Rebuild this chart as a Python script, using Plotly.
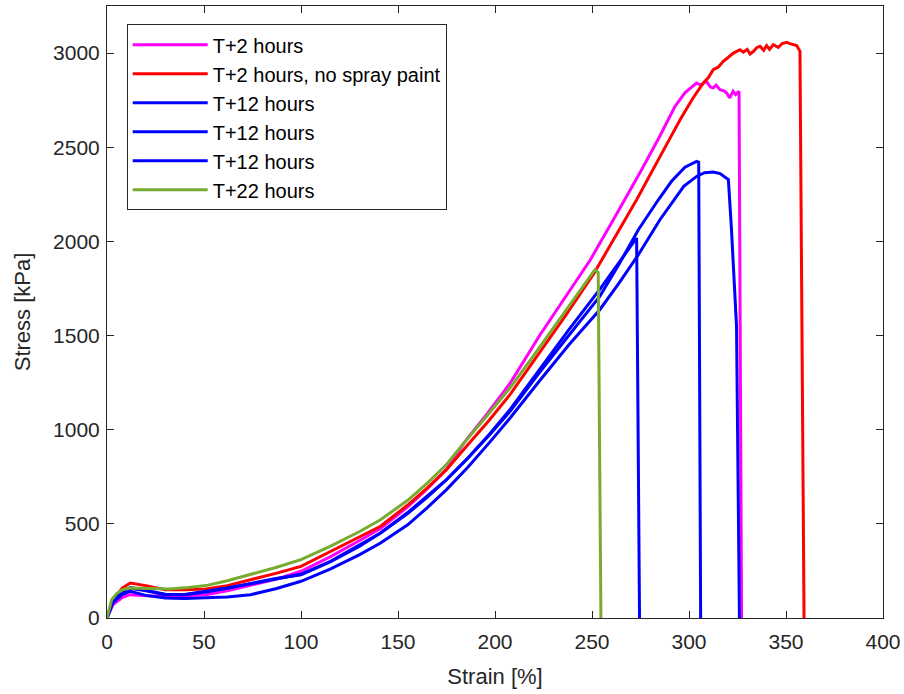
import plotly.graph_objects as go

# strain [%] / stress [kPa]
t2_strain = [0, 3, 8, 12, 20, 30, 40, 51, 62, 75, 87, 100, 115, 130, 141, 155, 165, 175, 184, 196,
             208, 223, 236, 249, 261, 267, 275, 285, 292.8, 298, 303.9, 306, 309, 311, 312.5, 314, 316,
             318, 319.4, 321, 322.7, 324, 325.8, 327.1]
t2_stress = [0, 70, 110, 124, 118, 115, 118, 124, 145, 175, 205, 248, 325, 410, 475, 590, 685, 790, 930, 1085,
             1250, 1500, 1700, 1900, 2115, 2221, 2370, 2560, 2717, 2790, 2841, 2830, 2850, 2820, 2815, 2830, 2806,
             2800, 2788, 2762, 2797, 2780, 2797, 0]

t2np_strain = [0, 3, 8, 12, 20, 30, 40, 51, 62, 75, 87, 100, 115, 130, 141, 155, 165, 175, 186, 197,
               208, 223, 236, 251, 267, 273, 284, 295.4, 302, 307.4, 310, 312.5, 315, 317.7, 320, 322.9,
               326.3, 328, 330, 331.5, 333.2, 335, 336.6, 338.5, 340, 341.5, 343.5, 346, 348, 350.4, 352,
               353.8, 355.5, 357.2, 359.3]
t2np_stress = [0, 95, 160, 186, 172, 150, 150, 154, 172, 205, 237, 274, 350, 430, 487, 600, 690, 788, 920, 1050,
               1190, 1410, 1600, 1830, 2115, 2221, 2430, 2646, 2760, 2841, 2870, 2912, 2925, 2956, 2975, 3000,
               3018, 3005, 3020, 2995, 3009, 3030, 3036, 3015, 3040, 3020, 3045, 3030, 3050, 3057, 3050,
               3045, 3040, 3009, 0]

t12a_strain = [0, 3, 8, 12, 20, 30, 40, 51, 62, 75, 87, 100, 115, 130, 141, 155, 165, 175, 186, 197,
               208, 223, 238, 254, 264, 270, 273, 274.5]
t12a_stress = [0, 90, 140, 162, 148, 126, 124, 138, 158, 182, 205, 232, 300, 385, 451, 560, 645, 735, 850, 975,
               1110, 1320, 1530, 1745, 1890, 1975, 2018, 0]

t12b_strain = [0, 3, 8, 12, 20, 30, 40, 51, 62, 75, 87, 100, 115, 130, 141, 155, 165, 175, 186, 197,
               208, 223, 238, 254, 264, 273.9, 284.2, 291, 297.9, 301, 303.9, 305, 306]
t12b_stress = [0, 85, 135, 158, 145, 124, 125, 141, 160, 185, 210, 230, 298, 380, 451, 555, 640, 734, 848, 970,
               1100, 1305, 1500, 1708, 1880, 2062, 2221, 2319, 2394, 2410, 2425, 2420, 0]

t12c_strain = [0, 3, 8, 12, 20, 30, 40, 51, 62, 74, 87, 100, 115, 130, 141, 155, 165, 175, 186, 197,
               208, 223, 238, 254, 264, 273.9, 285, 297.3, 303.9, 308, 312.5, 316, 320.3, 321.9, 324.5, 326]
t12c_stress = [0, 80, 125, 142, 120, 106, 104, 106, 112, 124, 155, 195, 260, 335, 398, 495, 585, 682, 800, 930,
               1065, 1260, 1450, 1637, 1780, 1929, 2115, 2292, 2345, 2365, 2368, 2360, 2328, 2062, 1549, 0]

t22_strain = [0, 2.4, 5, 8, 12, 18, 25, 32, 40, 51, 62, 74, 87, 100, 115, 130, 141, 155, 165, 175, 184, 196,
              208, 220, 232, 242, 248, 251.5, 253.2, 254.6]
t22_stress = [0, 97, 130, 150, 159, 158, 155, 154, 160, 172, 198, 230, 268, 310, 380, 458, 522, 625, 715, 815,
              930, 1075, 1225, 1395, 1570, 1715, 1805, 1850, 1835, 0]

series = [
    ("T+2 hours", t2_strain, t2_stress, "#FF00FF"),
    ("T+2 hours, no spray paint", t2np_strain, t2np_stress, "#FF0000"),
    ("T+12 hours", t12a_strain, t12a_stress, "#0000FF"),
    ("T+12 hours", t12b_strain, t12b_stress, "#0000FF"),
    ("T+12 hours", t12c_strain, t12c_stress, "#0000FF"),
    ("T+22 hours", t22_strain, t22_stress, "#77AC30"),
]

font = "Liberation Sans, Arial, Helvetica, sans-serif"
axcol = "#262626"

fig = go.Figure()
for i, (name, x, y, col) in enumerate(series):
    fig.add_trace(go.Scatter(x=x, y=y, mode="lines", name=name, legendgroup=str(i),
                             line=dict(color=col, width=3)))

axis_common = dict(showgrid=False, zeroline=False, showline=True, linecolor=axcol, linewidth=1,
                   mirror="allticks", ticks="inside", ticklen=7, tickcolor=axcol,
                   tickfont=dict(family=font, size=21, color=axcol))

fig.update_xaxes(range=[0, 400], dtick=50,
                 title=dict(text="Strain [%]", font=dict(family=font, size=22, color=axcol), standoff=16),
                 ticklabelstandoff=5, **axis_common)
fig.update_yaxes(range=[0, 3250], tickvals=[0, 500, 1000, 1500, 2000, 2500, 3000],
                 title=dict(text="Stress [kPa]", font=dict(family=font, size=22, color=axcol), standoff=16),
                 ticklabelstandoff=2, **axis_common)

fig.update_layout(
    width=904, height=694,
    margin=dict(l=107, r=21, t=6, b=76, autoexpand=False),
    plot_bgcolor="white", paper_bgcolor="white",
    legend=dict(x=0.0254, y=0.97, xanchor="left", yanchor="top",
                bgcolor="white", bordercolor=axcol, borderwidth=1,
                font=dict(family=font, size=20, color="black"),
                traceorder="grouped", tracegroupgap=0, itemwidth=75),
)

# page body has an 8px default margin; drop it so the figure sits at the window corner
fig.write_html("out.html", config={"displayModeBar": False},
               post_script="document.body.style.margin='0';")
